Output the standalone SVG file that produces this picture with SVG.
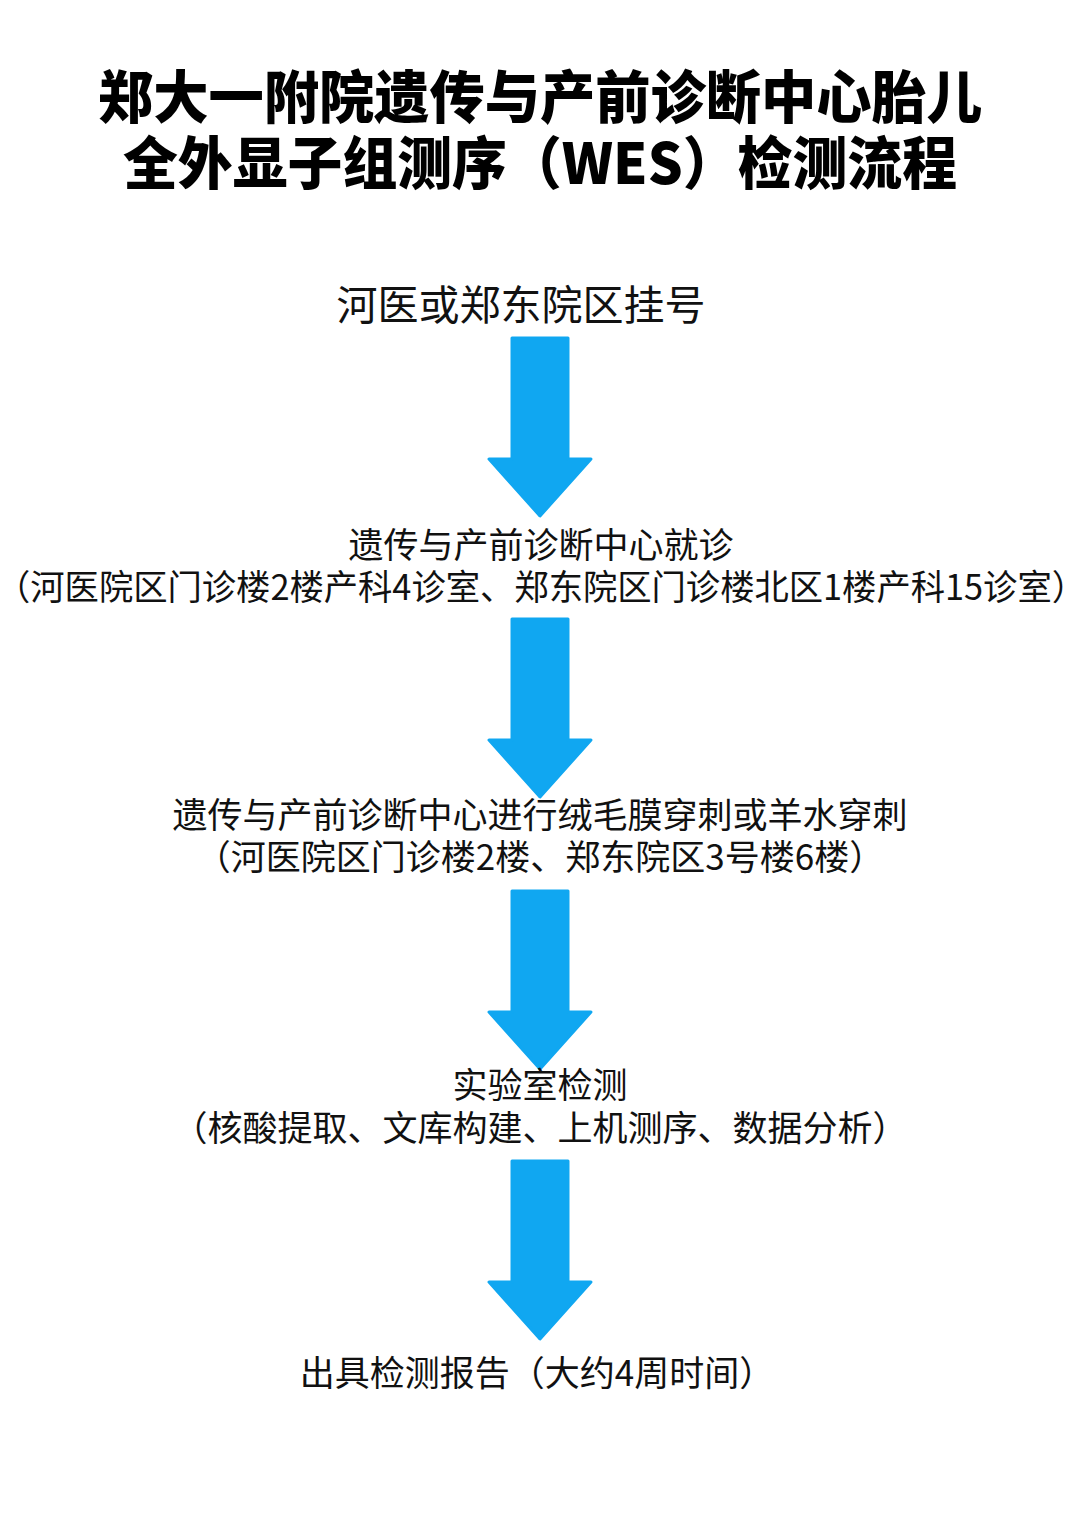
<svg xmlns="http://www.w3.org/2000/svg" width="1080" height="1527" viewBox="0 0 1080 1527">
<style>
.t{font-family:"Noto Sans CJK SC","Noto Sans",sans-serif;fill:#111;text-anchor:middle}
.h{font-family:"Noto Sans CJK SC","Noto Sans",sans-serif;font-weight:900;fill:#000;text-anchor:middle;font-size:57px}
.s{font-size:35px}
.a{fill:#10a7f1;stroke:#10a7f1;stroke-width:3;stroke-linejoin:round}
</style>
<defs>
<path id="arr" d="M512,0 H568 V121 H591 L540,178 L489,121 H512 Z"/>
</defs>
<rect width="1080" height="1527" fill="#fff"/>
<g id="title">
<text class="h" x="540" y="118" textLength="884" lengthAdjust="spacingAndGlyphs">郑大一附院遗传与产前诊断中心胎儿</text>
<text class="h" x="540" y="184" textLength="834" lengthAdjust="spacingAndGlyphs">全外显子组测序（WES）检测流程</text>
</g>
<g id="connectors">
<use href="#arr" class="a" transform="translate(0,338)"/>
<use href="#arr" class="a" transform="translate(0,619)"/>
<use href="#arr" class="a" transform="translate(0,891)"/>
<use href="#arr" class="a" transform="translate(0,1161)"/>
</g>
<g id="node1">
<text class="t" x="521" y="320" font-size="41">河医或郑东院区挂号</text>
</g>
<g id="node2">
<text class="t s" x="541" y="558">遗传与产前诊断中心就诊</text>
<text class="t s" x="541" y="600" textLength="1090" lengthAdjust="spacingAndGlyphs">（河医院区门诊楼2楼产科4诊室、郑东院区门诊楼北区1楼产科15诊室）</text>
</g>
<g id="node3">
<text class="t s" x="540" y="828">遗传与产前诊断中心进行绒毛膜穿刺或羊水穿刺</text>
<text class="t s" x="540" y="870">（河医院区门诊楼2楼、郑东院区3号楼6楼）</text>
</g>
<g id="node4">
<text class="t s" x="540" y="1098">实验室检测</text>
<text class="t s" x="540" y="1141">（核酸提取、文库构建、上机测序、数据分析）</text>
</g>
<g id="node5">
<text class="t s" x="537" y="1386">出具检测报告（大约4周时间）</text>
</g>
</svg>
